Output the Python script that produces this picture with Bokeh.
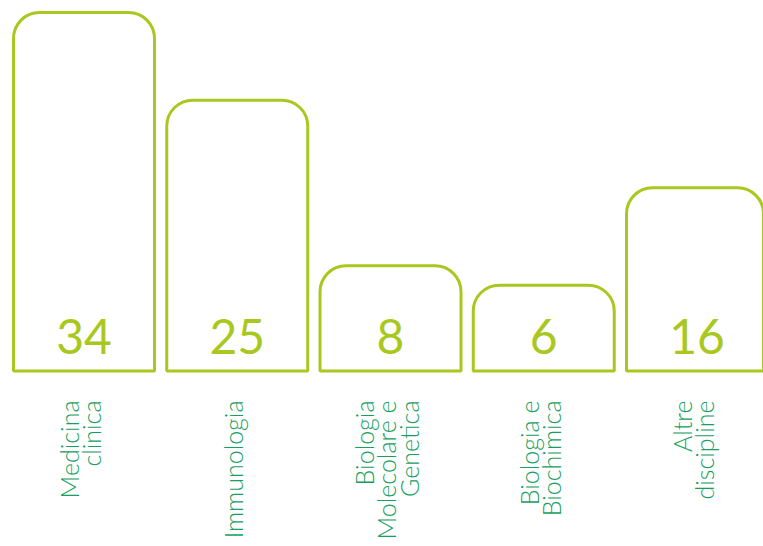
from bokeh.plotting import figure
from bokeh.models import ColumnDataSource, Range1d
from bokeh.core.properties import value
from bokeh.embed import file_html
from bokeh.resources import INLINE
import math

categories = ["Medicina\nclinica", "Immunologia", "Biologia\nMolecolare e\nGenetica",
              "Biologia e\nBiochimica", "Altre\ndiscipline"]
values = [34, 25, 8, 6, 16]
value_labels = [str(v) for v in values]

BAR_COLOR = "#a8c820"
LABEL_COLOR = "#17a05d"
BASE = -2.81

xs = list(range(len(values)))
src = ColumnDataSource(dict(x=xs, top=values, lab=value_labels, cat=categories))

W, H = 763, 546
p = figure(width=W, height=H, output_backend="svg", toolbar_location=None,
           x_range=Range1d(-0.5449, 4.4339), y_range=Range1d(-20.83, 35.23),
           min_border=0, outline_line_color=None)
p.axis.visible = False
p.grid.visible = False
p.background_fill_color = "white"

p.vbar(x="x", top="top", bottom=BASE, width=0.92, source=src,
       fill_color="white", line_color=BAR_COLOR, line_width=3,
       border_radius=(26, 26, 0, 0))

p.text(x="x", y=BASE + 3.54, text="lab", source=src, text_align="center",
       text_baseline="alphabetic", text_color=BAR_COLOR,
       text_font=value("Lato"), text_font_size="48px")

p.text(x="x", y=-5.84, text="cat", source=src, angle=math.pi / 2,
       x_offset=-4,
       text_align="right", text_baseline="middle", text_color=LABEL_COLOR,
       text_font=value("Lato Light"), text_font_size="25px", text_line_height=0.74)

open("out.html", "w").write(file_html(p, INLINE))
